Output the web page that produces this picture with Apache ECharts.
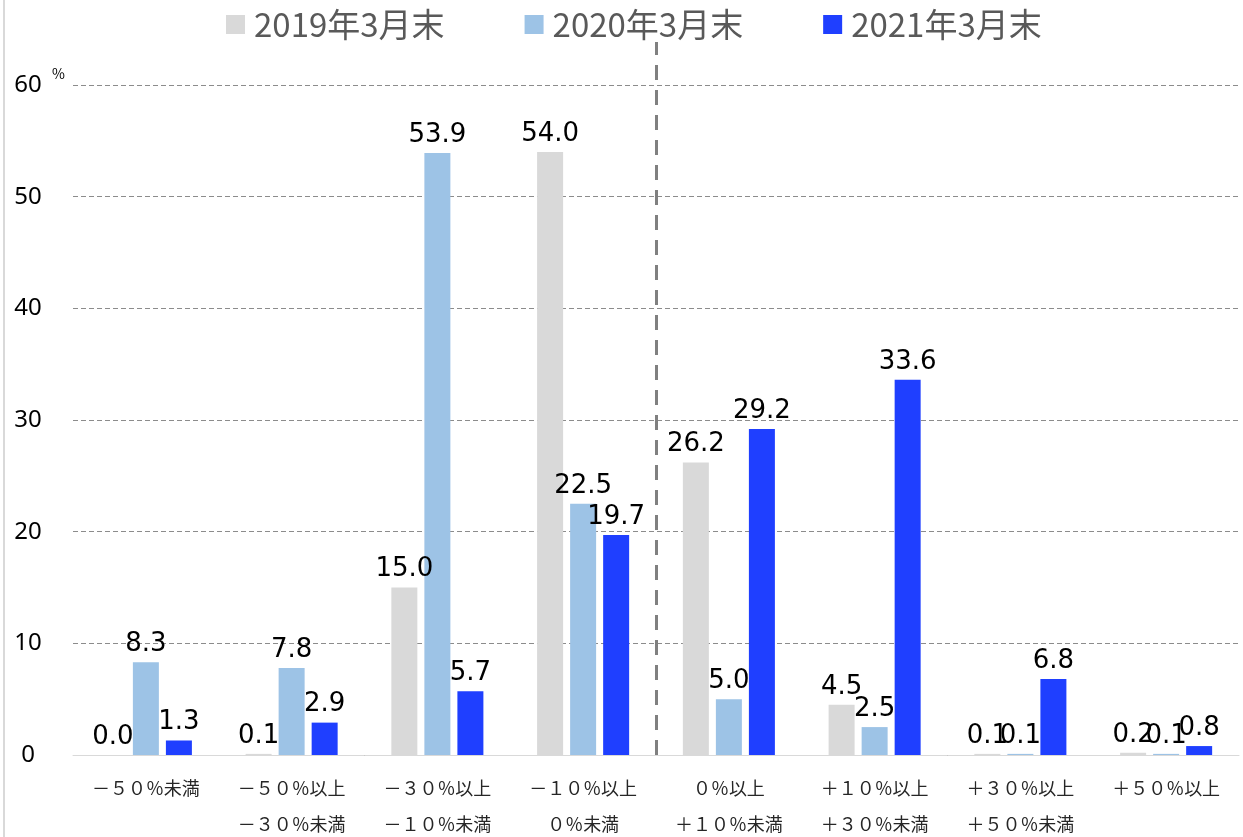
<!DOCTYPE html>
<html>
<head>
<meta charset="utf-8">
<script src="https://cdn.jsdelivr.net/npm/echarts@6/dist/echarts.min.js"></script>
<style>
  html, body { margin: 0; padding: 0; background: #fff; }
  #chart { width: 1243px; height: 837px; }
</style>
</head>
<body>
<div id="chart"></div>
<script>
// categories (rate of change)
const categories = [
  '－５０％未満',
  '－５０％以上\n－３０％未満',
  '－３０％以上\n－１０％未満',
  '－１０％以上\n０％未満',
  '０％以上\n＋１０％未満',
  '＋１０％以上\n＋３０％未満',
  '＋３０％以上\n＋５０％未満',
  '＋５０％以上'
]
const seriesNames = ['2019年3月末', '2020年3月末', '2021年3月末']
const values2019 = [0.0, 0.1, 15.0, 54.0, 26.2, 4.5, 0.1, 0.2]
const values2020 = [8.3, 7.8, 53.9, 22.5, 5.0, 2.5, 0.1, 0.1]
const values2021 = [1.3, 2.9, 5.7, 19.7, 29.2, 33.6, 6.8, 0.8]
const yTicks = [0, 10, 20, 30, 40, 50, 60]
// divider sits between "－１０％以上" and "０％以上"
const dividerAt = 4

const colors = ['#D9D9D9', '#9DC3E6', '#1F3FFF']
const numFont = 'DejaVu Sans'
const jpFont = '"Noto Sans CJK JP", "Noto Sans", sans-serif'

const chart = echarts.init(document.getElementById('chart'))

const barSeries = [values2019, values2020, values2021].map((data, i) => ({
  name: seriesNames[i],
  type: 'bar',
  data,
  barWidth: 26,
  barGap: '27%',
  itemStyle: { color: colors[i] },
  label: {
    show: true,
    position: 'top',
    distance: 5,
    fontFamily: numFont,
    fontSize: 26,
    color: '#000',
    formatter: p => p.value.toFixed(1),
  },
}))

const option = {
  animation: false,
  legend: {
    data: seriesNames,
    top: 3,
    left: 221,
    icon: 'rect',
    itemWidth: 19,
    itemHeight: 19,
    itemGap: 80,
    textStyle: {
      fontFamily: jpFont,
      fontSize: 33,
      color: '#595959',
      padding: [0, 0, 0, 4],
    },
  },
  grid: [
    { left: 73, right: 4, top: 85, bottom: 82, outerBoundsMode: 'none' },
    { left: 73, right: 4, top: 42, bottom: 82, outerBoundsMode: 'none' },
  ],
  xAxis: [
    {
      type: 'category',
      gridIndex: 0,
      data: categories,
      axisTick: { show: false },
      axisLine: { lineStyle: { color: '#D9D9D9', width: 1 } },
      axisLabel: {
        interval: 0,
        margin: 15,
        fontFamily: jpFont,
        fontSize: 18,
        lineHeight: 36,
        color: '#262626',
      },
    },
    {
      type: 'value',
      gridIndex: 1,
      min: 0,
      max: categories.length,
      show: false,
    },
  ],
  yAxis: [
    {
      type: 'value',
      gridIndex: 0,
      min: yTicks[0],
      max: yTicks[yTicks.length - 1],
      interval: 10,
      name: '%',
      nameLocation: 'end',
      nameGap: 4,
      nameTextStyle: {
        fontFamily: jpFont,
        fontSize: 14,
        color: '#000',
        align: 'right',
        padding: [0, 8, 0, 0],
      },
      axisLine: { show: false },
      axisTick: { show: false },
      axisLabel: {
        margin: 45,
        align: 'center',
        fontFamily: '"Noto Sans", sans-serif',
        fontSize: 24,
        color: '#000',
      },
      splitLine: {
        lineStyle: { color: '#8C8C8C', width: 1, type: [5, 3] },
      },
    },
    {
      type: 'value',
      gridIndex: 1,
      min: 0,
      max: 1,
      show: false,
    },
  ],
  graphic: [
    {
      type: 'line',
      shape: { x1: 4, y1: 0, x2: 4, y2: 837 },
      style: { stroke: '#D9D9D9', lineWidth: 2 },
    },
  ],
  series: [
    ...barSeries,
    {
      name: 'divider',
      type: 'line',
      xAxisIndex: 1,
      yAxisIndex: 1,
      data: [],
      markLine: {
        silent: true,
        symbol: 'none',
        label: { show: false },
        lineStyle: { color: '#808080', width: 3, type: [15, 10] },
        data: [{ xAxis: dividerAt }],
      },
    },
  ],
}

chart.setOption(option)
window.addEventListener('resize', () => chart.resize())
</script>
</body>
</html>
